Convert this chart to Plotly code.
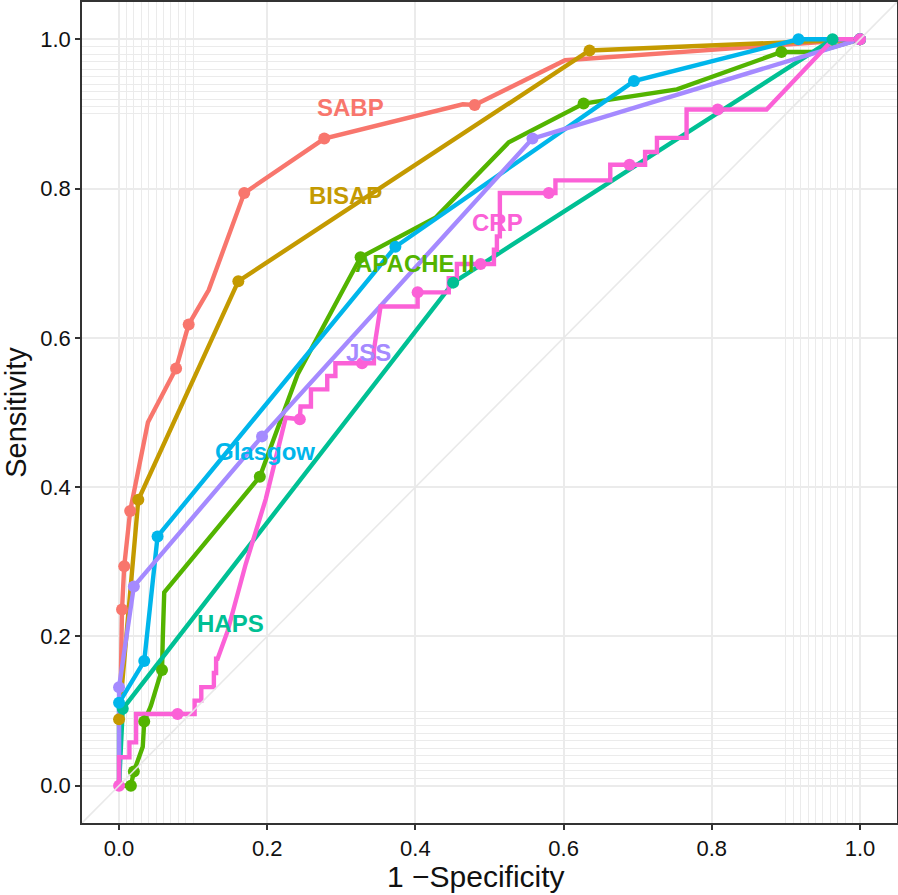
import plotly.graph_objects as go

# ---------------- data ----------------
names = ["SABP", "BISAP", "APACHE II", "HAPS", "Glasgow", "JSS", "CRP"]
colors = ["#F8766D", "#C49A00", "#53B400", "#00C094", "#00B6EB", "#A58AFF", "#FB61D7"]

# full ROC paths (1 - specificity, sensitivity)
sabp_x = [0.0, 0.004, 0.007, 0.015, 0.039, 0.077, 0.094, 0.121, 0.169, 0.277, 0.464, 0.480, 0.602, 1.0]
sabp_y = [0.0, 0.236, 0.294, 0.368, 0.487, 0.559, 0.618, 0.664, 0.794, 0.867, 0.913, 0.912, 0.972, 1.0]
sabp_px = [0.004, 0.007, 0.015, 0.077, 0.094, 0.169, 0.277, 0.480, 1.0]
sabp_py = [0.236, 0.294, 0.368, 0.559, 0.618, 0.794, 0.867, 0.912, 1.0]

bisap_x = [0.0, 0.0, 0.026, 0.161, 0.635, 1.0]
bisap_y = [0.0, 0.089, 0.383, 0.676, 0.985, 1.0]
bisap_px = [0.0, 0.026, 0.161, 0.635, 1.0]
bisap_py = [0.089, 0.383, 0.676, 0.985, 1.0]

apache_x = [0.0, 0.016, 0.020, 0.032, 0.034, 0.043, 0.054, 0.058, 0.059, 0.061, 0.190, 0.241, 0.326, 0.427, 0.526, 0.627, 0.753, 0.894, 0.940, 1.0]
apache_y = [0.0, 0.0, 0.019, 0.052, 0.086, 0.107, 0.143, 0.155, 0.197, 0.259, 0.414, 0.551, 0.708, 0.761, 0.862, 0.914, 0.933, 0.983, 0.983, 1.0]
apache_px = [0.016, 0.020, 0.034, 0.058, 0.190, 0.326, 0.627, 0.894, 1.0]
apache_py = [0.0, 0.019, 0.086, 0.155, 0.414, 0.708, 0.914, 0.983, 1.0]

haps_x = [0.0, 0.005, 0.451, 0.963, 1.0]
haps_y = [0.0, 0.103, 0.674, 1.0, 1.0]
haps_px = [0.005, 0.451, 0.963, 1.0]
haps_py = [0.103, 0.674, 1.0, 1.0]

glasgow_x = [0.0, 0.0, 0.034, 0.052, 0.373, 0.695, 0.917, 1.0]
glasgow_y = [0.0, 0.111, 0.167, 0.334, 0.722, 0.944, 1.0, 1.0]
glasgow_px = [0.0, 0.034, 0.052, 0.373, 0.695, 0.917, 1.0]
glasgow_py = [0.111, 0.167, 0.334, 0.722, 0.944, 1.0, 1.0]

jss_x = [0.0, 0.0, 0.020, 0.193, 0.558, 1.0]
jss_y = [0.0, 0.132, 0.267, 0.468, 0.867, 1.0]
jss_px = [0.0, 0.020, 0.193, 0.558, 1.0]
jss_py = [0.132, 0.267, 0.468, 0.867, 1.0]

crp_x = [0.0, 0.0, 0.014, 0.014, 0.023, 0.023, 0.079, 0.102, 0.102, 0.111, 0.111, 0.128, 0.128, 0.131, 0.131,
         0.133, 0.1465, 0.171, 0.198, 0.225, 0.244, 0.245, 0.259, 0.259, 0.281, 0.281, 0.292, 0.292, 0.328, 0.344,
         0.344, 0.350, 0.353, 0.403, 0.403, 0.445, 0.445, 0.456, 0.456, 0.488, 0.506, 0.506, 0.510, 0.510, 0.514,
         0.514, 0.580, 0.589, 0.589, 0.663, 0.663, 0.689, 0.710, 0.710, 0.726, 0.726, 0.766, 0.766, 0.808, 0.874,
         0.964, 1.0]
crp_y = [0.0, 0.038, 0.038, 0.058, 0.058, 0.096, 0.096, 0.096, 0.114, 0.114, 0.132, 0.132, 0.151, 0.151, 0.170,
         0.170, 0.207, 0.297, 0.384, 0.493, 0.491, 0.508, 0.508, 0.531, 0.531, 0.549, 0.549, 0.566, 0.566, 0.566,
         0.584, 0.620, 0.642, 0.642, 0.661, 0.661, 0.680, 0.680, 0.699, 0.699, 0.699, 0.718, 0.718, 0.736, 0.736,
         0.794, 0.794, 0.794, 0.811, 0.811, 0.832, 0.832, 0.832, 0.849, 0.849, 0.868, 0.868, 0.906, 0.906, 0.906,
         1.0, 1.0]
crp_px = [0.0, 0.079, 0.244, 0.328, 0.403, 0.488, 0.580, 0.689, 0.808, 1.0]
crp_py = [0.0, 0.096, 0.491, 0.566, 0.661, 0.699, 0.794, 0.832, 0.906, 1.0]

paths = [(sabp_x, sabp_y, sabp_px, sabp_py), (bisap_x, bisap_y, bisap_px, bisap_py),
         (apache_x, apache_y, apache_px, apache_py), (haps_x, haps_y, haps_px, haps_py),
         (glasgow_x, glasgow_y, glasgow_px, glasgow_py), (jss_x, jss_y, jss_px, jss_py),
         (crp_x, crp_y, crp_px, crp_py)]

# label positions
label_x = [0.313, 0.306, 0.400, 0.150, 0.197, 0.337, 0.511]
label_y = [0.909, 0.791, 0.700, 0.217, 0.448, 0.580, 0.755]

tick_vals = [0.0, 0.2, 0.4, 0.6, 0.8, 1.0]
minor_vals = [round(i * 0.01, 2) for i in range(0, 11)] + [round(0.9 + i * 0.01, 2) for i in range(0, 11)]
diag = [-0.05, 1.05]

FONT = "Liberation Sans, Arial, sans-serif"

# ---------------- figure ----------------
fig = go.Figure()
for (px, py, mx, my), c, n in zip(paths, colors, names):
    fig.add_trace(go.Scatter(x=px, y=py, mode="lines", line=dict(color=c, width=4.4),
                             name=n, showlegend=False, hoverinfo="skip"))
for (px, py, mx, my), c, n in zip(paths, colors, names):
    fig.add_trace(go.Scatter(x=mx, y=my, mode="markers", marker=dict(color=c, size=12),
                             name=n, showlegend=False))
fig.add_trace(go.Scatter(x=diag, y=diag, mode="lines", line=dict(color="rgba(232,232,232,0.95)", width=1.6),
                         showlegend=False, hoverinfo="skip"))

for n, c, lx, ly in zip(names, colors, label_x, label_y):
    fig.add_annotation(x=lx, y=ly, text="<b>%s</b>" % n, showarrow=False,
                       font=dict(family=FONT, size=24, color=c))

# x-axis title (paper-anchored annotation, slightly left of panel centre as in the original)
fig.add_annotation(xref="paper", yref="paper", x=0.4834, y=-0.0646, xanchor="center", yanchor="middle",
                   text="1 −Specificity", showarrow=False,
                   font=dict(family=FONT, size=30, color="#111111"))

axis_common = dict(
    range=[-0.05, 1.05], tickvals=tick_vals, ticktext=["%.1f" % v for v in tick_vals],
    showgrid=True, gridcolor="#EBEBEB", gridwidth=1.6, zeroline=False,
    showline=True, mirror=True, linecolor="#333333", linewidth=1.6,
    ticks="outside", ticklen=5, tickwidth=1.6, tickcolor="#333333",
    tickfont=dict(family=FONT, size=22, color="#111111"),
    minor=dict(tickvals=minor_vals, showgrid=True, gridcolor="#EBEBEB", gridwidth=1.2, ticks=""),
    automargin=False,
)
fig.update_xaxes(**axis_common)
fig.update_yaxes(**axis_common,
                 title=dict(text="Sensitivity", standoff=8,
                            font=dict(family=FONT, size=29, color="#111111")))

fig.update_layout(width=898, height=895, margin=dict(l=82, r=1, t=2, b=72),
                  plot_bgcolor="white", paper_bgcolor="white")
fig.write_html("out.html", config={"displayModeBar": False},
               post_script="document.body.style.margin='0';document.body.style.overflow='hidden';")
